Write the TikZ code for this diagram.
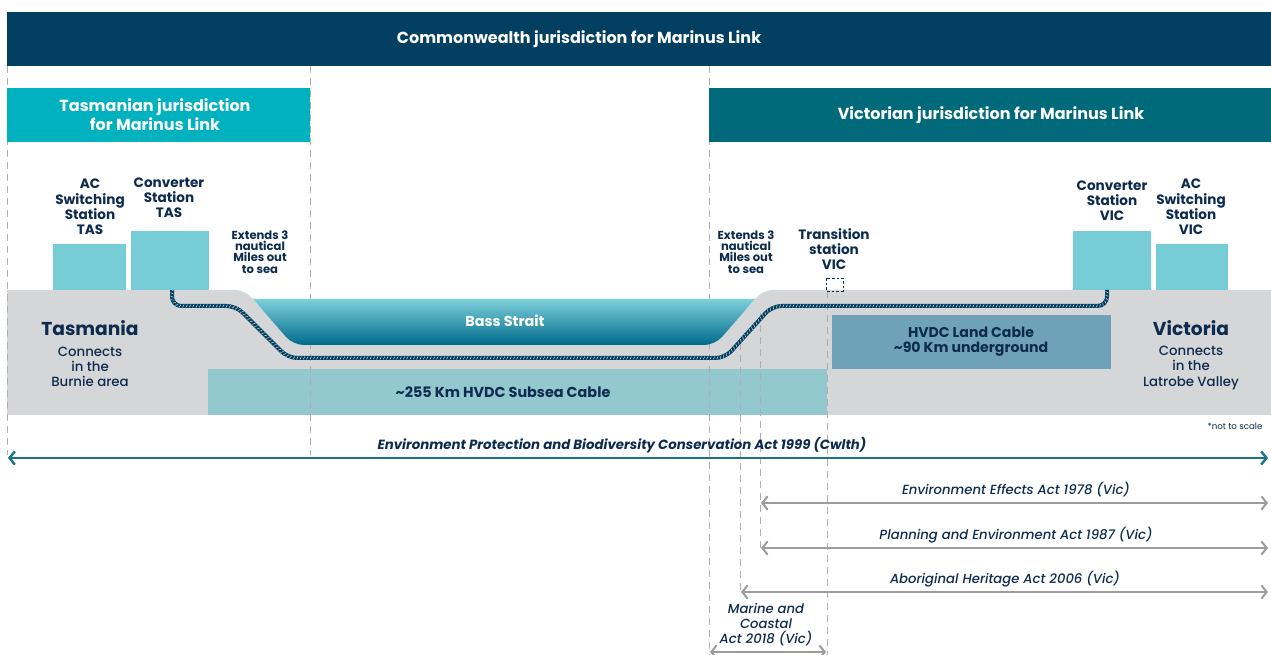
\documentclass[tikz,border=0pt]{standalone}
\usepackage{fontspec}
\setmainfont{Poppins}
\newfontfamily\medfont{Poppins Medium}
\usetikzlibrary{arrows.meta,decorations.markings}
\definecolor{banner}{HTML}{023F60}
\definecolor{tascyan}{HTML}{00B2BF}
\definecolor{victeal}{HTML}{006A7B}
\definecolor{station}{HTML}{76CDD6}
\definecolor{land}{HTML}{D5D6D8}
\definecolor{subsea}{HTML}{93C8CE}
\definecolor{landcable}{HTML}{6FA2B8}
\definecolor{seatop}{HTML}{7DD0DA}
\definecolor{seamid}{HTML}{139FBA}
\definecolor{seabot}{HTML}{006A8B}
\definecolor{ink}{HTML}{0D2B4E}
\definecolor{actgray}{HTML}{9C9C9C}
\definecolor{dashgray}{HTML}{AFAFAF}
\definecolor{epbc}{HTML}{1A7386}
\definecolor{ropelight}{HTML}{C9D4DD}
\begin{document}
\begin{tikzpicture}[x=0.75pt,y=-0.75pt,
  hdr/.style={text=white,font=\bfseries\fontsize{12}{14.2}\selectfont,align=center,inner sep=0pt},
  lbl/.style={text=ink,font=\bfseries\fontsize{10.2}{11.4}\selectfont,align=center,inner sep=0pt},
  small/.style={text=ink,font=\bfseries\fontsize{8.7}{8.4}\selectfont,align=center,inner sep=0pt},
  place/.style={text=ink,font=\bfseries\fontsize{14}{16}\selectfont,inner sep=0pt},
  sub/.style={text=ink,font=\medfont\fontsize{10}{11.3}\selectfont,align=center,inner sep=0pt},
  act/.style={text=ink,font=\medfont\itshape\fontsize{9.9}{11.3}\selectfont,align=center,inner sep=0pt},
  vline/.style={dashgray,line width=0.7pt,dash pattern=on 5pt off 4pt},
  actarrow/.style={actgray,line width=1.5pt,{Straight Barb[length=4pt,width=10pt]}-{Straight Barb[length=4pt,width=10pt]}},
  rope/.style={banner,line width=3pt,rounded corners=7pt},
  ropetwist/.style={rounded corners=7pt,decorate,decoration={markings,
     mark=between positions 0 and 1 step 2.5pt with {\draw[ropelight,line width=0.4pt] (-0.6pt,-1.1pt) -- (0.6pt,1.1pt);}}}
]
\useasboundingbox (0,0) rectangle (1271,655);
% land
\fill[land] (7,415) -- (7,290) [rounded corners=7pt] -- (245,290) [sharp corners] -- (263,311) -- (745,311) [rounded corners=7pt] -- (763,290) [sharp corners] -- (1271,290) -- (1271,415) -- cycle;
% subsea box
\fill[subsea] (208,369) rectangle (827,415);
% dashed lines
\draw[vline] (7,66) -- (7,455);
\draw[vline] (310,66) -- (310,455);
\draw[vline] (709,66) -- (709,655);
\draw[vline] (740,343) -- (740,592);
\draw[vline] (760,313) -- (760,548);
\draw[vline] (827,291) -- (827,655);
% sea
\shade[top color=seatop,middle color=seamid,bottom color=seabot] (253,299) [rounded corners=8pt] -- (293,345) -- (715,345) [sharp corners] -- (755,299) -- cycle;
% land cable box
\fill[landcable] (832,315) rectangle (1111,369);
% stations
\fill[station] (53,244) rectangle (126,290);
\fill[station] (131,231) rectangle (209,290);
\fill[station] (1073,231) rectangle (1151,290);
\fill[station] (1156,244) rectangle (1228,290);
\draw[ink,line width=0.6pt,dash pattern=on 2pt off 1.5pt] (826,278) rectangle (843,291);
% cable
\draw[rope] (172,290) -- (172,306) -- (236,306) -- (288,358) -- (725,358) -- (772,306) -- (1107,306) -- (1107,290);
\path[ropetwist] (172,290) -- (172,306) -- (236,306) -- (288,358) -- (725,358) -- (772,306) -- (1107,306) -- (1107,290);
% banners
\fill[banner] (7,12) rectangle (1271,66);
\fill[tascyan] (7,88) rectangle (310,142);
\fill[victeal] (709,88) rectangle (1271,142);
\node[hdr] (comm) at (579,39) {Commonwealth jurisdiction for Marinus Link};
\node[hdr] (tas) at (155,115) {Tasmanian jurisdiction\\for Marinus Link};
\node[hdr] (vic) at (991,115) {Victorian jurisdiction for Marinus Link};
% station labels
\node[lbl] (actas) at (90,207) {AC\\Switching\\Station\\TAS};
\node[lbl] (convtas) at (169,198) {Converter\\Station\\TAS};
\node[small] (exttas) at (260,252) {Extends 3\\nautical\\Miles out\\to sea};
\node[small] (extvic) at (746,252) {Extends 3\\nautical\\Miles out\\to sea};
\node[lbl] (trans) at (834,249) {Transition\\station\\VIC};
\node[lbl] (convvic) at (1112,201) {Converter\\Station\\VIC};
\node[lbl] (acvic) at (1191,207) {AC\\Switching\\Station\\VIC};
% places
\node[place] (tasmania) at (90,328) {Tasmania};
\node[sub] (tasconn) at (90,367) {Connects\\in the\\Burnie area};
\node[place] (victoria) at (1191,328) {Victoria};
\node[sub] (vicconn) at (1191,368) {Connects\\in the\\Latrobe Valley};
\node[lbl,text=white,font=\bfseries\fontsize{10.8}{12}\selectfont] (bass) at (505,321) {Bass Strait};
\node[lbl,font=\bfseries\fontsize{10.6}{11.4}\selectfont] (hvdc) at (971,342) {HVDC Land Cable\\\textasciitilde90 Km underground};
\node[lbl,font=\bfseries\fontsize{10.8}{12}\selectfont] (subseatxt) at (503,392) {\textasciitilde255 Km HVDC Subsea Cable};
\node[text=ink,font=\fontsize{6.5}{7}\selectfont,inner sep=0pt] (nts) at (1235,426) {*not to scale};
% acts
\coordinate (e1) at (8,458); \coordinate (e2) at (1268,458);
\draw[epbc,line width=1.8pt,{Straight Barb[length=4pt,width=10pt]}-{Straight Barb[length=4pt,width=10pt]}] (e1) -- (e2);
\node[act,font=\bfseries\itshape\fontsize{10}{12}\selectfont] (epbctxt) at (622,445) {Environment Protection and Biodiversity Conservation Act 1999 (Cwlth)};
\coordinate (a1) at (761,503); \coordinate (a2) at (1268,503);
\draw[actarrow] (a1) -- (a2);
\node[act] (eetxt) at (1016,490) {Environment Effects Act 1978 (Vic)};
\coordinate (b1) at (761,548); \coordinate (b2) at (1268,548);
\draw[actarrow] (b1) -- (b2);
\node[act] (petxt) at (1016,535) {Planning and Environment Act 1987 (Vic)};
\coordinate (c1) at (741,592); \coordinate (c2) at (1268,592);
\draw[actarrow] (c1) -- (c2);
\node[act] (ahtxt) at (1005,579) {Aboriginal Heritage Act 2006 (Vic)};
\coordinate (d1) at (710,652); \coordinate (d2) at (826,652);
\draw[actarrow] (d1) -- (d2);
\node[act] (mctxt) at (766,625) {Marine and\\Coastal\\Act 2018 (Vic)};
\end{tikzpicture}
\end{document}
